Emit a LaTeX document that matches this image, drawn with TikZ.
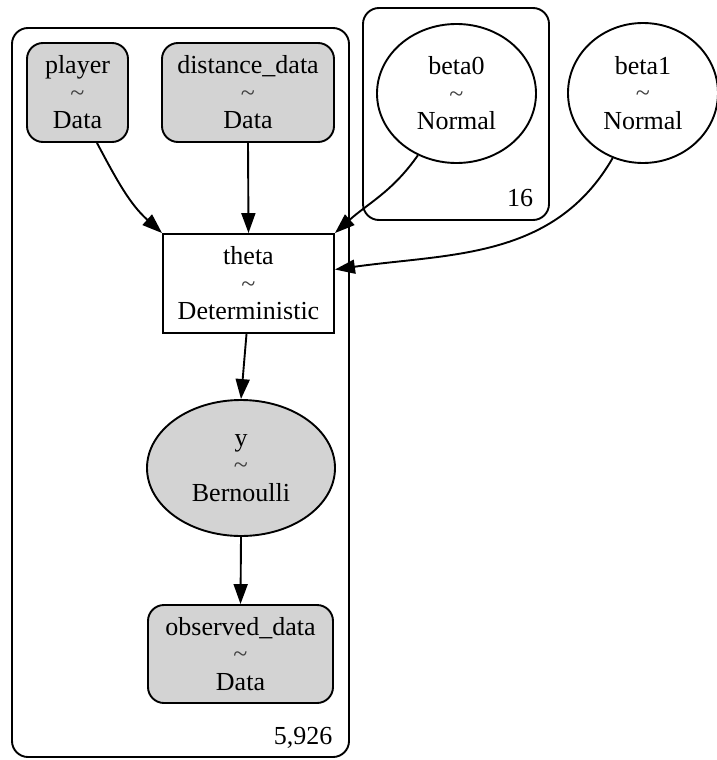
\documentclass[tikz,border=0pt]{standalone}
\usepackage{fontspec}
\setmainfont{Liberation Serif}
\usetikzlibrary{shapes.geometric,arrows.meta}
\definecolor{obsgray}{HTML}{D3D3D3}
\newcommand{\dist}{\textcolor{black!75}{\textasciitilde}}
\tikzset{
  base/.style={draw=black, line width=1.9pt, align=center, inner sep=0pt,
    font=\fontsize{26}{27.5}\selectfont},
  datanode/.style={base, fill=obsgray, rounded corners=16pt},
  freevar/.style={base, ellipse},
  detnode/.style={base, rectangle},
  plate/.style={draw=black, line width=1.9pt, rounded corners=16pt},
  platelabel/.style={font=\fontsize{26}{27.5}\selectfont, inner sep=0pt},
  arr/.style={line width=1.9pt, -{Triangle[length=20pt,width=14pt]}}
}
\begin{document}
\begin{tikzpicture}[x=1pt, y=-1pt]
\useasboundingbox (0,0) rectangle (716,760);

% plates
\draw[plate] (12,28) rectangle (349,757);
\draw[plate] (363,8) rectangle (549,220);
\node[platelabel] (n5926) at (303,738) {5,926};
\node[platelabel] (n16) at (520,198) {16};

% variables
\node[datanode, minimum width=101pt, minimum height=99pt] (player) at (77.5,92.5)
  {player\\\dist\\Data};
\node[datanode, minimum width=172pt, minimum height=99pt] (distdata) at (248,92.5)
  {distance\_data\\\dist\\Data};
\node[freevar, minimum width=159pt, minimum height=139pt] (beta0) at (456.5,93.5)
  {beta0\\\dist\\Normal};
\node[freevar, minimum width=150pt, minimum height=140pt] (beta1) at (643,93)
  {beta1\\\dist\\Normal};
\node[detnode, minimum width=171pt, minimum height=99pt] (theta) at (248.5,283.5)
  {theta\\\dist\\Deterministic};
\node[freevar, fill=obsgray, minimum width=188pt, minimum height=136pt] (y) at (241,468)
  {y\\\dist\\Bernoulli};
\node[datanode, minimum width=185pt, minimum height=98pt] (obs) at (240.5,654)
  {observed\_data\\\dist\\Data};

% edges
\draw[arr] (player.south) ++(19.5pt,0) to[out=-62, in=138] (theta.north west);
\draw[arr] (distdata.south) -- (theta.north);
\draw[arr] (beta0.-122) to[out=-125, in=42] (theta.north east);
\draw[arr] (beta1.-115) to[out=-120, in=8] ([yshift=14pt]theta.east);
\draw[arr] ([xshift=-2pt]theta.south) -- (y.north);
\draw[arr] (y.south) -- (obs.north);
\end{tikzpicture}
\end{document}
